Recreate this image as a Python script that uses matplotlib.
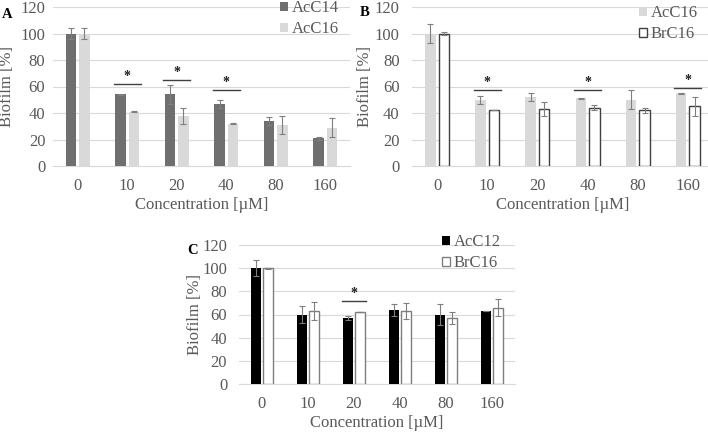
import matplotlib
matplotlib.use("Agg")
import matplotlib.pyplot as plt
import numpy as np

plt.rcParams['font.family'] = ['Liberation Serif', 'DejaVu Serif']

categories = ["0", "10", "20", "40", "80", "160"]

# Panel A
a_acc14 = [100, 54, 54, 47, 34, 21]
a_acc14_err = [4, 0.3, 7, 3, 3, 1]
a_acc16 = [100, 41, 38, 32, 31, 29]
a_acc16_err = [4, 0.3, 6, 0.3, 7, 7]
a_sig = [(1, 62), (2, 65), (3, 57)]

# Panel B
b_acc16 = [100, 50, 52, 51, 50, 55]
b_acc16_err = [7, 3, 3, 0.3, 7, 0.3]
b_brc16 = [100, 42, 43, 44, 42, 45]
b_brc16_err = [1, 0, 5, 2, 2, 7]
b_sig = [(1, 57), (3, 57), (5, 59)]

# Panel C
c_acc12 = [100, 60, 57, 64, 60, 63]
c_acc12_err = [7, 7, 2, 5, 9, 0]
c_brc16 = [100, 63, 62, 63, 57, 66]
c_brc16_err = [0.5, 8, 0, 7, 5, 7]
c_sig = [(2, 72)]

TXT = '#595959'
W, H = 708, 432
fig = plt.figure(figsize=(W/100, H/100), dpi=100)

def ax_px(x0, y0, x1, y1):
    return fig.add_axes([x0/W, 1 - y1/H, (x1-x0)/W, (y1-y0)/H])

def panel(ax, s1, e1, st1, s2, e2, st2, labels, sig, ypad, xpad, ylab_x, xlab_y,
          leg_anchor, fs=12):
    x = np.arange(len(categories)) + 0.5
    w = 0.21
    g = 0.06
    ax.bar(x - (w+g)/2, s1, w, **st1, zorder=3, label=labels[0])
    ax.bar(x + (w+g)/2, s2, w, **st2, zorder=3, label=labels[1])
    ax.errorbar(x - (w+g)/2, s1, yerr=e1, fmt='none', ecolor='#7f7f7f',
                elinewidth=0.8, capsize=2, capthick=0.8, zorder=4)
    ax.errorbar(x + (w+g)/2, s2, yerr=e2, fmt='none', ecolor='#7f7f7f',
                elinewidth=0.8, capsize=2, capthick=0.8, zorder=4)
    for i, yv in sig:
        ax.plot([x[i] - 0.27, x[i] + 0.27], [yv, yv], color='#404040', lw=1, zorder=5)
        ax.text(x[i], yv + 0.8, '*', ha='center', va='bottom', fontsize=fs-2,
                color='#202020', fontweight='bold')
    ax.set_xlim(0, 6)
    ax.set_ylim(0, 120)
    ax.set_yticks(range(0, 121, 20))
    ax.set_xticks(x)
    ax.set_xticklabels(categories)
    ax.tick_params(length=0, labelsize=fs, colors=TXT)
    ax.tick_params(axis='y', pad=ypad)
    ax.tick_params(axis='x', pad=xpad)
    ax.yaxis.grid(True, color='#d9d9d9', lw=0.8, zorder=0)
    for s in ['top', 'right', 'left']:
        ax.spines[s].set_visible(False)
    ax.spines['bottom'].set_color('#d9d9d9')
    ax.set_ylabel('Biofilm [%]', fontsize=fs, color=TXT, va='center')
    ax.yaxis.set_label_coords(ylab_x, 0.5)
    ax.set_xlabel('Concentration [\u00b5M]', fontsize=fs, color=TXT, va='center')
    ax.xaxis.set_label_coords(0.5, xlab_y)
    leg = ax.legend(loc='upper right', bbox_to_anchor=(leg_anchor[0]/W, 1 - leg_anchor[1]/H),
                    bbox_transform=fig.transFigure, frameon=False,
                    fontsize=fs, handlelength=0.45, handleheight=0.45,
                    handletextpad=0.25, labelspacing=0.3, borderaxespad=0, borderpad=0)
    for t in leg.get_texts():
        t.set_color(TXT)

axA = ax_px(53, 7, 350, 166)
panel(axA, a_acc14, a_acc14_err, dict(color='#6f6f6f'),
      a_acc16, a_acc16_err, dict(color='#d9d9d9'), ['AcC14', 'AcC16'], a_sig,
      ypad=5.5, xpad=9, ylab_x=-0.155, xlab_y=-0.245, leg_anchor=(339, 0))

axB = ax_px(412, 7, 713, 166)
panel(axB, b_acc16, b_acc16_err, dict(color='#d9d9d9'),
      b_brc16, b_brc16_err, dict(color='white', edgecolor='#404040', linewidth=1),
      ['AcC16', 'BrC16'], b_sig,
      ypad=9, xpad=9, ylab_x=-0.156, xlab_y=-0.245, leg_anchor=(698, 5))

axC = ax_px(239, 245, 515, 384)
panel(axC, c_acc12, c_acc12_err, dict(color='black'),
      c_brc16, c_brc16_err, dict(color='white', edgecolor='#7f7f7f', linewidth=1),
      ['AcC12', 'BrC16'], c_sig,
      ypad=8.5, xpad=9, ylab_x=-0.159, xlab_y=-0.28, leg_anchor=(501, 234))

fig.text(2/W, 1 - 14/H, 'A', fontsize=10.5, fontweight='bold', va='center', ha='left')
fig.text(360/W, 1 - 13/H, 'B', fontsize=10.5, fontweight='bold', va='center', ha='left')
fig.text(187/W, 1 - 250/H, 'C', fontsize=10.5, fontweight='bold', va='center', ha='left')

fig.savefig('out.png', dpi=100)
